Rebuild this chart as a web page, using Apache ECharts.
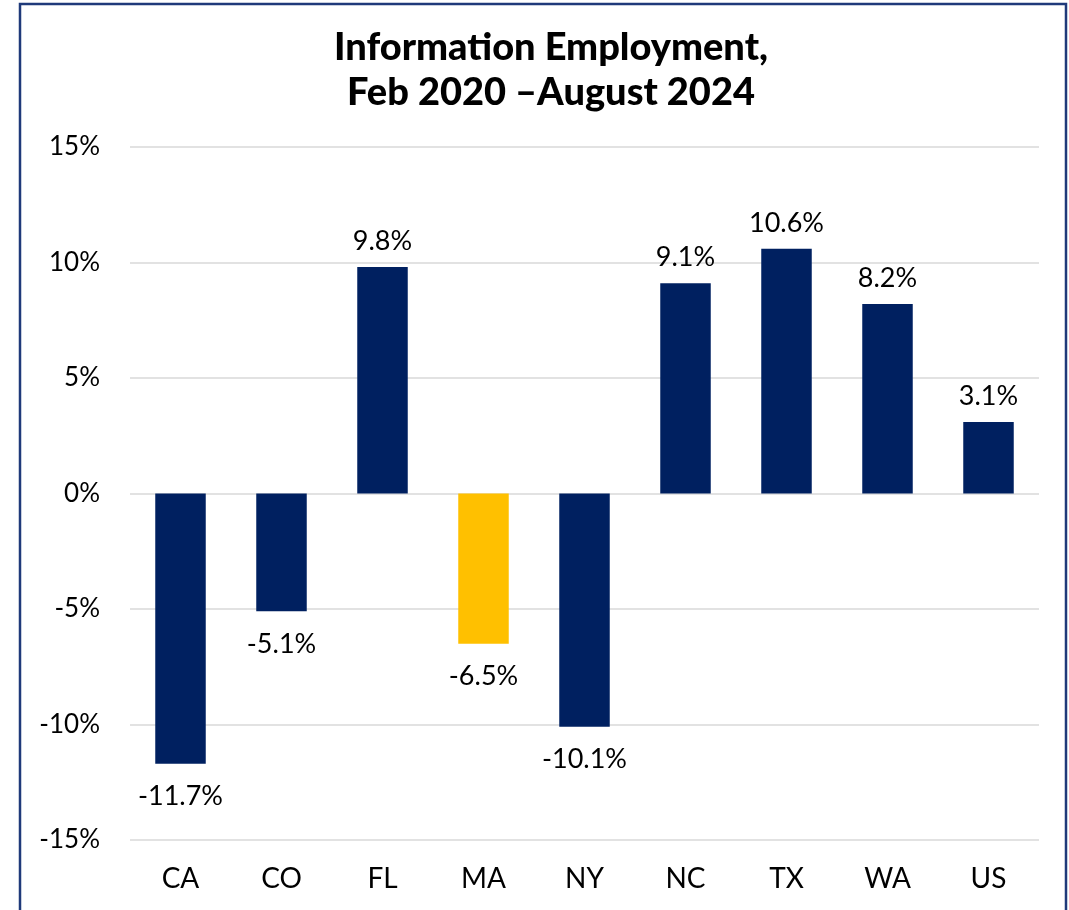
<!DOCTYPE html>
<html>
<head>
<meta charset="utf-8">
<script src="https://cdn.jsdelivr.net/npm/echarts@6/dist/echarts.min.js"></script>
<style>
  html, body { margin: 0; padding: 0; background: #fff; }
  #chart { width: 1069px; height: 910px; }
</style>
</head>
<body>
<div id="chart"></div>
<script>
// data
var states = ["CA", "CO", "FL", "MA", "NY", "NC", "TX", "WA", "US"];
var changePct = [-11.7, -5.1, 9.8, -6.5, -10.1, 9.1, 10.6, 8.2, 3.1];
var highlight = "MA"; // Massachusetts shown in gold
var yTicks = [-15, -10, -5, 0, 5, 10, 15];

var chart = echarts.init(document.getElementById("chart"));
var font = "Lato, 'Open Sans', sans-serif";

chart.setOption({
  animation: false,
  backgroundColor: "#fff",
  title: {
    text: "Information Employment,\nFeb 2020 \u2013August 2024",
    left: 546,
    top: 20,
    textAlign: "center",
    textStyle: {
      fontFamily: font,
      fontWeight: 900,
      fontSize: 38,
      lineHeight: 45,
      color: "#000"
    }
  },
  graphic: [{
    type: "rect",
    shape: { x: 20, y: 4, width: 1046, height: 1000 },
    style: { fill: "none", stroke: "#1F3A7A", lineWidth: 2.5 },
    silent: true
  }],
  grid: { left: 130, right: 30, top: 147, bottom: 70 },
  xAxis: {
    type: "category",
    data: states,
    axisLine: { show: false },
    axisTick: { show: false },
    axisLabel: {
      fontFamily: font,
      fontSize: 28,
      color: "#000",
      margin: 25
    }
  },
  yAxis: {
    type: "value",
    min: yTicks[0],
    max: yTicks[yTicks.length - 1],
    interval: 5,
    axisLine: { show: false },
    axisTick: { show: false },
    splitLine: { lineStyle: { color: "#D9D9D9", width: 1.5 } },
    axisLabel: {
      fontFamily: font,
      fontSize: 26,
      color: "#000",
      margin: 30,
      formatter: "{value}%"
    }
  },
  series: [{
    type: "bar",
    barWidth: "50%",
    data: changePct.map(function (v, i) {
      return {
        value: v,
        itemStyle: { color: states[i] === highlight ? "#FFC000" : "#002060" },
        label: v < 0 ? { position: "bottom", distance: 19 } : { position: "top", distance: 12 }
      };
    }),
    label: {
      show: true,
      fontFamily: font,
      fontSize: 27,
      color: "#000",
      formatter: function (p) { return p.value.toFixed(1) + "%"; }
    }
  }]
});
</script>
</body>
</html>
